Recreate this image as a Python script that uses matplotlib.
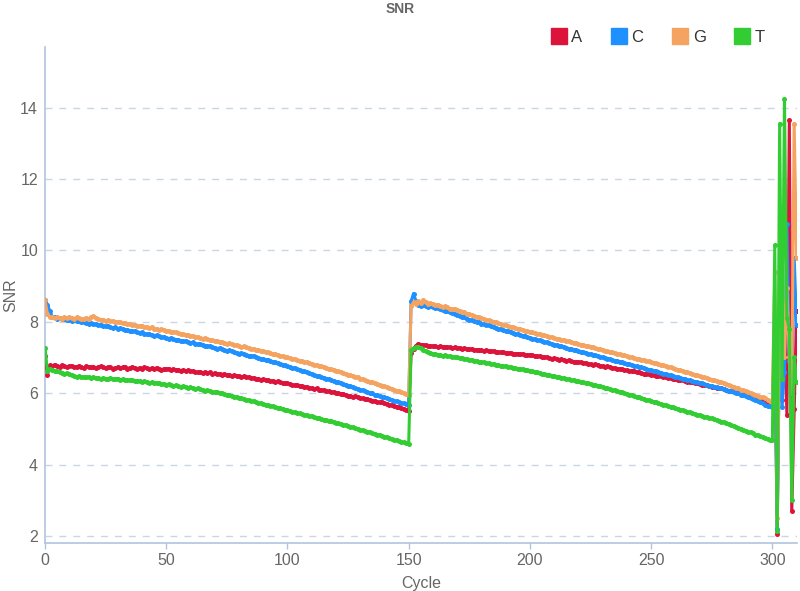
import numpy as np
import matplotlib.pyplot as plt
from matplotlib.lines import Line2D

plt.rcParams["font.family"] = ["Liberation Sans", "DejaVu Sans"]

# SNR per cycle: first run (cycles 0-150), second run (151-300), tail (301-310)
a_run1 = [
    7.03, 6.52, 6.78, 6.76, 6.80, 6.77, 6.74, 6.78, 6.76, 6.73,
    6.75, 6.77, 6.72, 6.74, 6.76, 6.73, 6.71, 6.75, 6.74, 6.72,
    6.74, 6.71, 6.73, 6.75, 6.72, 6.70, 6.73, 6.72, 6.69, 6.71,
    6.73, 6.70, 6.72, 6.74, 6.69, 6.71, 6.73, 6.70, 6.68, 6.71,
    6.69, 6.72, 6.70, 6.67, 6.70, 6.68, 6.71, 6.69, 6.66, 6.68,
    6.67, 6.69, 6.65, 6.67, 6.64, 6.66, 6.63, 6.65, 6.62, 6.64,
    6.61, 6.63, 6.60, 6.58, 6.60, 6.57, 6.59, 6.56, 6.58, 6.55,
    6.56, 6.54, 6.55, 6.52, 6.54, 6.51, 6.52, 6.49, 6.50, 6.47,
    6.48, 6.46, 6.47, 6.44, 6.45, 6.42, 6.43, 6.40, 6.41, 6.38,
    6.39, 6.36, 6.37, 6.34, 6.35, 6.32, 6.33, 6.30, 6.29, 6.27,
    6.28, 6.25, 6.24, 6.22, 6.23, 6.20, 6.19, 6.17, 6.18, 6.15,
    6.14, 6.12, 6.13, 6.10, 6.08, 6.09, 6.06, 6.05, 6.02, 6.03,
    6.00, 5.99, 5.97, 5.98, 5.95, 5.93, 5.92, 5.90, 5.91, 5.88,
    5.86, 5.85, 5.83, 5.84, 5.81, 5.79, 5.78, 5.76, 5.74, 5.75,
    5.72, 5.70, 5.68, 5.66, 5.65, 5.62, 5.60, 5.58, 5.56, 5.53, 5.50,
]
a_run2 = [
    7.13, 7.25, 7.33, 7.39, 7.36, 7.34, 7.35, 7.32, 7.33, 7.31,
    7.32, 7.30, 7.31, 7.29, 7.30, 7.28, 7.29, 7.27, 7.28, 7.26,
    7.27, 7.25, 7.26, 7.24, 7.23, 7.24, 7.22, 7.21, 7.22, 7.20,
    7.19, 7.20, 7.18, 7.17, 7.18, 7.16, 7.15, 7.14, 7.15, 7.13,
    7.12, 7.13, 7.11, 7.10, 7.11, 7.09, 7.10, 7.08, 7.07, 7.08,
    7.06, 7.05, 7.03, 7.04, 7.02, 7.00, 7.01, 6.99, 6.97, 6.98,
    6.96, 6.94, 6.95, 6.93, 6.91, 6.92, 6.90, 6.88, 6.87, 6.88,
    6.86, 6.84, 6.85, 6.83, 6.81, 6.80, 6.81, 6.79, 6.77, 6.76,
    6.74, 6.75, 6.73, 6.71, 6.70, 6.68, 6.69, 6.67, 6.65, 6.64,
    6.62, 6.63, 6.61, 6.59, 6.58, 6.56, 6.55, 6.53, 6.54, 6.52,
    6.50, 6.49, 6.47, 6.48, 6.46, 6.44, 6.42, 6.43, 6.41, 6.39,
    6.37, 6.38, 6.36, 6.34, 6.32, 6.30, 6.31, 6.29, 6.27, 6.25,
    6.23, 6.24, 6.22, 6.20, 6.18, 6.16, 6.14, 6.15, 6.13, 6.11,
    6.09, 6.07, 6.05, 6.06, 6.04, 6.02, 5.99, 5.97, 5.95, 5.96,
    5.91, 5.88, 5.85, 5.83, 5.80, 5.77, 5.74, 5.72, 5.70, 5.68,
]
a_tail = [7.5, 2.05, 8.0, 5.8, 8.2, 5.4, 13.65, 2.7, 5.55, 8.3]

c_run1 = [
    8.62, 8.48, 8.30, 8.14, 8.12, 8.09, 8.10, 8.07, 8.08, 8.05,
    8.06, 8.03, 8.04, 8.01, 8.02, 7.99, 8.00, 7.97, 7.95, 7.96,
    7.93, 7.94, 7.91, 7.92, 7.89, 7.87, 7.88, 7.85, 7.83, 7.84,
    7.81, 7.82, 7.79, 7.77, 7.78, 7.75, 7.73, 7.74, 7.71, 7.69,
    7.70, 7.67, 7.65, 7.66, 7.63, 7.61, 7.62, 7.59, 7.57, 7.58,
    7.55, 7.53, 7.54, 7.51, 7.49, 7.50, 7.47, 7.45, 7.46, 7.43,
    7.41, 7.42, 7.39, 7.37, 7.38, 7.35, 7.33, 7.31, 7.32, 7.29,
    7.27, 7.25, 7.26, 7.23, 7.21, 7.19, 7.20, 7.17, 7.15, 7.13,
    7.11, 7.12, 7.09, 7.07, 7.05, 7.03, 7.04, 7.01, 6.99, 6.97,
    6.95, 6.94, 6.92, 6.90, 6.88, 6.86, 6.84, 6.83, 6.80, 6.78,
    6.76, 6.74, 6.71, 6.70, 6.67, 6.65, 6.62, 6.61, 6.58, 6.56,
    6.54, 6.52, 6.49, 6.48, 6.45, 6.43, 6.41, 6.39, 6.37, 6.34,
    6.32, 6.30, 6.28, 6.25, 6.23, 6.21, 6.19, 6.16, 6.14, 6.12,
    6.10, 6.08, 6.05, 6.03, 6.01, 5.99, 5.96, 5.94, 5.92, 5.90,
    5.88, 5.86, 5.83, 5.81, 5.79, 5.77, 5.75, 5.73, 5.71, 5.70, 5.68,
]
c_run2 = [
    8.57, 8.79, 8.58, 8.48, 8.45, 8.47, 8.44, 8.42, 8.43, 8.40,
    8.38, 8.39, 8.35, 8.33, 8.31, 8.29, 8.26, 8.24, 8.22, 8.19,
    8.17, 8.14, 8.12, 8.09, 8.06, 8.05, 8.02, 8.00, 7.98, 7.95,
    7.93, 7.91, 7.90, 7.87, 7.85, 7.83, 7.81, 7.79, 7.77, 7.75,
    7.73, 7.71, 7.69, 7.67, 7.65, 7.63, 7.61, 7.59, 7.57, 7.55,
    7.53, 7.51, 7.49, 7.48, 7.46, 7.44, 7.42, 7.40, 7.38, 7.36,
    7.35, 7.33, 7.31, 7.29, 7.27, 7.25, 7.24, 7.22, 7.20, 7.18,
    7.16, 7.15, 7.13, 7.11, 7.09, 7.08, 7.06, 7.04, 7.02, 7.00,
    6.99, 6.97, 6.95, 6.93, 6.91, 6.90, 6.88, 6.86, 6.84, 6.82,
    6.81, 6.79, 6.77, 6.75, 6.73, 6.72, 6.70, 6.68, 6.66, 6.64,
    6.63, 6.61, 6.59, 6.57, 6.55, 6.54, 6.52, 6.50, 6.48, 6.46,
    6.45, 6.43, 6.41, 6.39, 6.37, 6.36, 6.34, 6.32, 6.30, 6.28,
    6.27, 6.25, 6.23, 6.21, 6.20, 6.18, 6.16, 6.15, 6.13, 6.11,
    6.09, 6.07, 6.05, 6.03, 6.01, 5.99, 5.96, 5.94, 5.91, 5.89,
    5.86, 5.83, 5.80, 5.77, 5.74, 5.71, 5.66, 5.64, 5.63, 5.62,
]
c_tail = [7.6, 2.2, 8.2, 5.6, 6.6, 10.75, 6.9, 6.1, 9.8, 7.9]

g_run1 = [
    8.61, 8.22, 8.12, 8.14, 8.10, 8.13, 8.11, 8.09, 8.12, 8.10,
    8.13, 8.11, 8.08, 8.12, 8.10, 8.07, 8.09, 8.11, 8.08, 8.13,
    8.15, 8.11, 8.07, 8.05, 8.06, 8.03, 8.04, 8.01, 8.02, 7.99,
    8.00, 7.98, 7.96, 7.97, 7.94, 7.93, 7.91, 7.92, 7.89, 7.88,
    7.89, 7.86, 7.85, 7.83, 7.84, 7.81, 7.80, 7.78, 7.79, 7.76,
    7.75, 7.74, 7.72, 7.70, 7.71, 7.68, 7.67, 7.65, 7.63, 7.64,
    7.61, 7.60, 7.58, 7.57, 7.55, 7.53, 7.54, 7.51, 7.49, 7.48,
    7.46, 7.47, 7.44, 7.42, 7.41, 7.39, 7.40, 7.37, 7.35, 7.34,
    7.32, 7.30, 7.31, 7.28, 7.26, 7.25, 7.23, 7.21, 7.22, 7.19,
    7.17, 7.16, 7.14, 7.12, 7.10, 7.09, 7.07, 7.05, 7.04, 7.02,
    7.00, 6.98, 6.97, 6.95, 6.93, 6.91, 6.89, 6.88, 6.86, 6.84,
    6.82, 6.80, 6.79, 6.77, 6.75, 6.73, 6.71, 6.69, 6.67, 6.65,
    6.63, 6.61, 6.59, 6.57, 6.55, 6.52, 6.50, 6.48, 6.46, 6.44,
    6.41, 6.39, 6.37, 6.35, 6.32, 6.30, 6.28, 6.26, 6.23, 6.21,
    6.19, 6.16, 6.14, 6.12, 6.10, 6.07, 6.05, 6.03, 6.00, 5.97, 5.94,
]
g_run2 = [
    8.43, 8.55, 8.50, 8.58, 8.52, 8.60, 8.54, 8.51, 8.52, 8.49,
    8.47, 8.48, 8.45, 8.42, 8.43, 8.40, 8.37, 8.35, 8.36, 8.33,
    8.31, 8.28, 8.26, 8.23, 8.21, 8.19, 8.17, 8.14, 8.12, 8.10,
    8.08, 8.06, 8.04, 8.02, 8.00, 7.98, 7.96, 7.94, 7.92, 7.90,
    7.88, 7.86, 7.84, 7.82, 7.81, 7.79, 7.77, 7.75, 7.73, 7.72,
    7.70, 7.69, 7.67, 7.65, 7.63, 7.62, 7.60, 7.58, 7.57, 7.55,
    7.53, 7.51, 7.50, 7.48, 7.46, 7.45, 7.43, 7.41, 7.40, 7.38,
    7.36, 7.34, 7.33, 7.31, 7.29, 7.28, 7.26, 7.24, 7.23, 7.21,
    7.19, 7.17, 7.16, 7.14, 7.12, 7.11, 7.09, 7.07, 7.06, 7.04,
    7.02, 7.00, 6.99, 6.97, 6.95, 6.94, 6.92, 6.90, 6.89, 6.87,
    6.85, 6.84, 6.82, 6.80, 6.78, 6.76, 6.74, 6.72, 6.70, 6.68,
    6.66, 6.64, 6.62, 6.60, 6.58, 6.56, 6.54, 6.52, 6.50, 6.48,
    6.46, 6.44, 6.42, 6.40, 6.38, 6.36, 6.34, 6.32, 6.30, 6.28,
    6.25, 6.23, 6.20, 6.18, 6.15, 6.13, 6.10, 6.08, 6.05, 6.03,
    6.00, 5.98, 5.95, 5.93, 5.90, 5.88, 5.85, 5.82, 5.79, 5.76,
]
g_tail = [9.4, 2.5, 8.0, 9.8, 7.0, 8.95, 7.0, 6.0, 13.55, 9.8]

t_run1 = [
    7.27, 6.62, 6.68, 6.66, 6.63, 6.61, 6.59, 6.57, 6.55, 6.56,
    6.53, 6.50, 6.48, 6.46, 6.47, 6.45, 6.46, 6.44, 6.45, 6.43,
    6.44, 6.42, 6.43, 6.41, 6.42, 6.40, 6.41, 6.42, 6.39, 6.40,
    6.41, 6.38, 6.39, 6.37, 6.38, 6.36, 6.37, 6.35, 6.33, 6.34,
    6.32, 6.33, 6.31, 6.29, 6.30, 6.28, 6.29, 6.27, 6.25, 6.26,
    6.24, 6.25, 6.23, 6.21, 6.22, 6.20, 6.18, 6.19, 6.17, 6.15,
    6.16, 6.14, 6.12, 6.13, 6.11, 6.09, 6.07, 6.08, 6.06, 6.04,
    6.02, 6.03, 6.01, 5.99, 5.97, 5.96, 5.94, 5.92, 5.90, 5.89,
    5.87, 5.85, 5.84, 5.82, 5.80, 5.78, 5.77, 5.75, 5.73, 5.71,
    5.70, 5.68, 5.66, 5.64, 5.63, 5.61, 5.59, 5.57, 5.56, 5.54,
    5.52, 5.50, 5.48, 5.47, 5.45, 5.43, 5.41, 5.40, 5.38, 5.36,
    5.35, 5.33, 5.31, 5.29, 5.28, 5.26, 5.24, 5.23, 5.21, 5.19,
    5.17, 5.15, 5.14, 5.12, 5.10, 5.08, 5.06, 5.04, 5.02, 5.00,
    4.98, 4.96, 4.94, 4.92, 4.90, 4.88, 4.86, 4.84, 4.82, 4.80,
    4.78, 4.76, 4.74, 4.72, 4.70, 4.68, 4.66, 4.64, 4.62, 4.60, 4.57,
]
t_run2 = [
    7.22, 7.26, 7.28, 7.30, 7.27, 7.22, 7.18, 7.15, 7.13, 7.11,
    7.10, 7.08, 7.07, 7.05, 7.06, 7.04, 7.03, 7.01, 7.02, 7.00,
    6.99, 6.98, 6.97, 6.95, 6.94, 6.93, 6.91, 6.90, 6.88, 6.87,
    6.86, 6.85, 6.84, 6.82, 6.81, 6.80, 6.79, 6.77, 6.76, 6.75,
    6.74, 6.72, 6.71, 6.70, 6.69, 6.68, 6.67, 6.65, 6.64, 6.63,
    6.61, 6.60, 6.58, 6.57, 6.55, 6.54, 6.52, 6.51, 6.49, 6.48,
    6.46, 6.45, 6.43, 6.42, 6.40, 6.39, 6.37, 6.36, 6.34, 6.33,
    6.31, 6.30, 6.28, 6.27, 6.25, 6.24, 6.23, 6.21, 6.19, 6.17,
    6.15, 6.13, 6.11, 6.09, 6.08, 6.06, 6.04, 6.02, 6.00, 5.98,
    5.96, 5.94, 5.92, 5.90, 5.88, 5.86, 5.84, 5.82, 5.80, 5.78,
    5.76, 5.74, 5.72, 5.70, 5.68, 5.66, 5.64, 5.62, 5.60, 5.58,
    5.56, 5.54, 5.52, 5.50, 5.48, 5.46, 5.44, 5.42, 5.40, 5.38,
    5.36, 5.34, 5.33, 5.31, 5.29, 5.27, 5.25, 5.23, 5.20, 5.18,
    5.15, 5.13, 5.10, 5.08, 5.05, 5.03, 5.00, 4.98, 4.95, 4.92,
    4.90, 4.87, 4.84, 4.82, 4.79, 4.76, 4.74, 4.72, 4.70, 4.69,
]
t_tail = [10.15, 2.15, 13.55, 6.4, 14.25, 8.1, 7.8, 3.0, 7.0, 6.3]

bases = ["A", "C", "G", "T"]
colors = ["#dc143c", "#1e90ff", "#f4a460", "#32cd32"]
series = [
    a_run1 + a_run2 + a_tail,
    c_run1 + c_run2 + c_tail,
    g_run1 + g_run2 + g_tail,
    t_run1 + t_run2 + t_tail,
]

AXIS = "#b0c4de"
GRID = "#c9d6e6"
TXT = "#666666"

fig = plt.figure(figsize=(8.0, 5.91), dpi=100, facecolor="white")
ax = fig.add_axes([0.05625, 0.0812, 0.9395, 0.8393])

for base, color, values in zip(bases, colors, series):
    cycles = np.arange(len(values))
    ax.plot(
        cycles, values,
        color=color, linewidth=2.2, marker="o", markersize=3.6,
        markeredgewidth=0, zorder=3, label=base,
    )

ax.set_xlim(0, 310)
ax.set_ylim(1.8, 15.7)
ax.set_xticks(range(0, 301, 50))
ax.set_yticks(range(2, 15, 2))
ax.grid(axis="y", color=GRID, linestyle=(0, (5, 5)), linewidth=1.0, zorder=0)

for side in ["top", "right"]:
    ax.spines[side].set_visible(False)
for side in ["left", "bottom"]:
    ax.spines[side].set_color(AXIS)
    ax.spines[side].set_linewidth(1.2)

ax.tick_params(axis="x", colors=AXIS, length=4, width=1.0, labelsize=11.5, labelcolor=TXT, pad=3)
ax.tick_params(axis="y", length=0, labelsize=11.5, labelcolor=TXT, pad=5)

ax.set_xlabel("Cycle", fontsize=11.5, color=TXT, labelpad=6)
ax.set_ylabel("SNR", fontsize=11.5, color=TXT)
ax.yaxis.set_label_coords(-0.036, 0.5)

fig.text(0.5, 0.997, "SNR", ha="center", va="top", fontsize=10, fontweight="bold", color="#666666")

handles = [
    Line2D([0], [0], color=c, marker="s", markersize=11, linestyle="none", label=b)
    for b, c in zip(bases, colors)
]
fig.legend(
    handles=handles,
    loc="center right",
    bbox_to_anchor=(0.975, 0.937),
    ncol=4,
    frameon=False,
    fontsize=12,
    handlelength=0.9,
    handletextpad=0.3,
    columnspacing=1.75,
    labelcolor="#333333",
)

fig.savefig("out.png", dpi=100, facecolor="white")
plt.close(fig)
